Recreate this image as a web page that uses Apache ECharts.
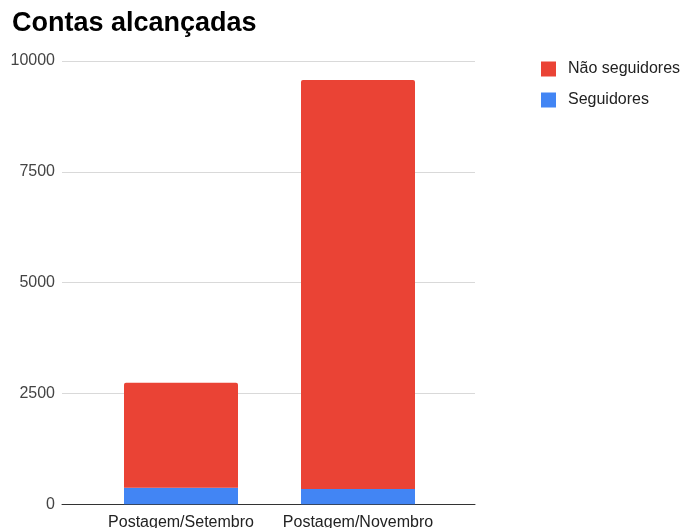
<!DOCTYPE html>
<html><head><meta charset="utf-8">
<script src="https://cdn.jsdelivr.net/npm/echarts@6/dist/echarts.min.js"></script>
<style>html,body{margin:0;padding:0;background:#fff}#c{width:682px;height:528px}</style>
</head><body><div id="c"></div>
<script>
const categories = ['Postagem/Setembro', 'Postagem/Novembro'];
const seguidores = [375, 345];
const naoSeguidores = [2365, 9225];
const yTicks = [0, 2500, 5000, 7500, 10000];

const chart = echarts.init(document.getElementById('c'));
const font = 'Arial, "Liberation Sans", sans-serif';
chart.setOption({
  animation: false,
  title: { text: 'Contas alcançadas', left: 12, top: 10, padding: 0,
    textStyle: { fontFamily: font, fontWeight: 'bold', fontSize: 27, color: '#000' } },
  legend: {
    orient: 'vertical', left: 541, top: 61, padding: 0, itemWidth: 15, itemHeight: 15, itemGap: 15,
    icon: 'rect', data: ['Não seguidores', 'Seguidores'],
    textStyle: { fontFamily: font, fontSize: 16, color: '#222', padding: [0, 0, 0, 7] }
  },
  grid: [
    { left: 62, right: 207, top: 61, bottom: 23.7, outerBoundsMode: 'none', containLabel: false },
    { left: 92.5, right: 235.5, top: 61, bottom: 23.7, outerBoundsMode: 'none', containLabel: false }
  ],
  xAxis: [
    { gridIndex: 0, type: 'category', data: categories,
      axisLine: { lineStyle: { color: '#333', width: 1 } }, axisTick: { show: false }, axisLabel: { show: false } },
    { gridIndex: 1, type: 'category', data: categories,
      axisLine: { show: false }, axisTick: { show: false },
      axisLabel: { interval: 0, fontFamily: font, fontSize: 16, color: '#222', margin: 10 } }
  ],
  yAxis: [
    { gridIndex: 0, type: 'value', min: 0, max: 10000, interval: 2500,
      axisLine: { show: false }, axisTick: { show: false },
      axisLabel: { fontFamily: font, fontSize: 16, color: '#444', margin: 7,
        formatter: v => yTicks.includes(v) ? String(v) : '' },
      splitLine: { lineStyle: { color: '#d9d9d9', width: 1 } } },
    { gridIndex: 1, type: 'value', min: 0, max: 10000, interval: 2500, show: false,
      splitLine: { show: false } }
  ],
  series: [
    { name: 'Seguidores', type: 'bar', stack: 's', xAxisIndex: 1, yAxisIndex: 1,
      data: seguidores, barWidth: 114, itemStyle: { color: '#4285F4' } },
    { name: 'Não seguidores', type: 'bar', stack: 's', xAxisIndex: 1, yAxisIndex: 1,
      data: naoSeguidores, barWidth: 114, itemStyle: { color: '#EA4335', borderRadius: [2, 2, 0, 0] } }
  ]
});
</script></body></html>
